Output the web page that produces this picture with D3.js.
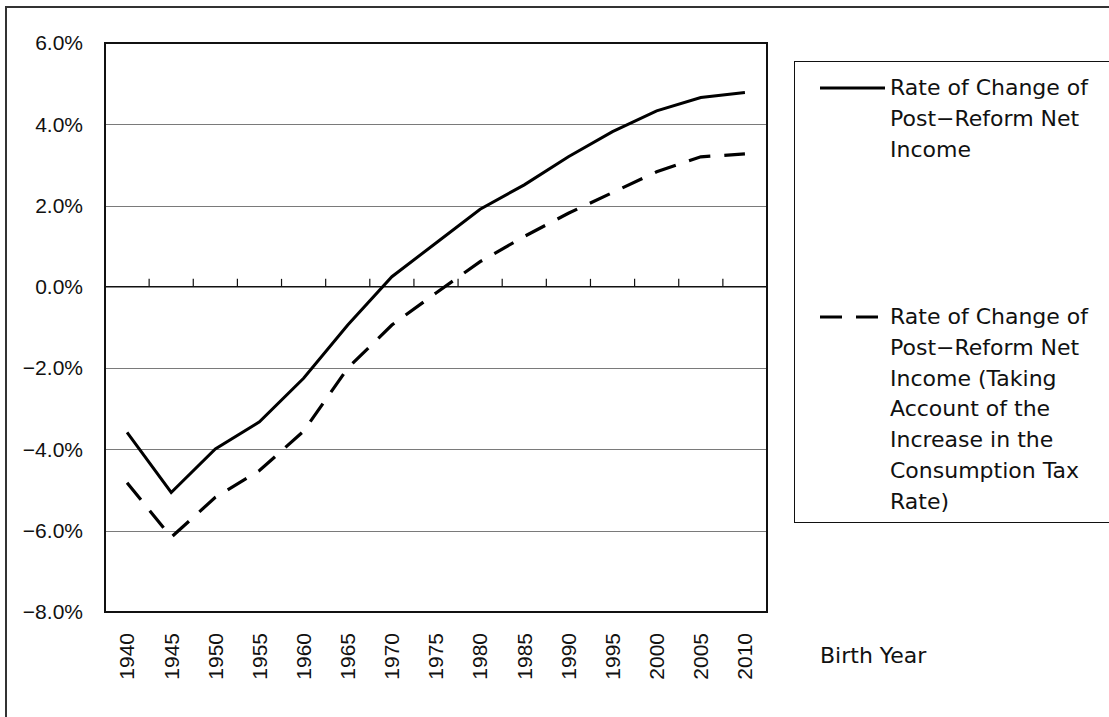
<!DOCTYPE html>
<html>
<head>
<meta charset="utf-8">
<script src="https://cdn.jsdelivr.net/npm/d3@7"></script>
<style>
  html, body { margin: 0; padding: 0; background: #fff; }
  svg { display: block; }
</style>
</head>
<body>
<svg id="chart" width="1109" height="717"></svg>
<script>
// Birth-year cohorts
const birthYears = ["1940","1945","1950","1955","1960","1965","1970","1975","1980","1985","1990","1995","2000","2005","2010"];

// Rate of change of post-reform net income (%)
const netIncomeChange = [-3.58, -5.06, -3.99, -3.32, -2.25, -0.94, 0.25, 1.08, 1.91, 2.51, 3.20, 3.82, 4.33, 4.66, 4.78];

// Same, taking account of the consumption tax increase (%)
const netIncomeChangeTax = [-4.82, -6.16, -5.18, -4.52, -3.55, -2.0, -0.94, -0.15, 0.62, 1.24, 1.81, 2.32, 2.83, 3.20, 3.27];

// Y-axis tick values (%)
const yTicks = [-8, -6, -4, -2, 0, 2, 4, 6];

const seriesLabels = [
  ["Rate of Change of", "Post\u2212Reform Net", "Income"],
  ["Rate of Change of", "Post\u2212Reform Net", "Income (Taking", "Account of the", "Increase in the", "Consumption Tax", "Rate)"]
];

const svg = d3.select("#chart");
const plot = { left: 105, right: 767, top: 43, bottom: 612 };

const x = d3.scaleBand().domain(birthYears).range([plot.left, plot.right]).padding(0);
const y = d3.scaleLinear().domain([-8, 6]).range([plot.bottom, plot.top]);

// outer frame
svg.append("rect")
  .attr("x", 6).attr("y", 7).attr("width", 1120).attr("height", 730)
  .attr("fill", "none").attr("stroke", "#333").attr("stroke-width", 2);

// gridlines
svg.append("g")
  .selectAll("line")
  .data(yTicks.filter(d => d !== 0 && d !== -8 && d !== 6))
  .join("line")
  .attr("x1", plot.left).attr("x2", plot.right)
  .attr("y1", d => Math.round(y(d)) + 0.5).attr("y2", d => Math.round(y(d)) + 0.5)
  .attr("stroke", "#7a7a7a").attr("stroke-width", 1);

// plot border
svg.append("rect")
  .attr("x", plot.left).attr("y", plot.top)
  .attr("width", plot.right - plot.left).attr("height", plot.bottom - plot.top)
  .attr("fill", "none").attr("stroke", "#111").attr("stroke-width", 2);

const axisFont = "'Liberation Sans', Arial, sans-serif";

// y axis labels
const yAxis = d3.axisLeft(y).tickValues(yTicks).tickSize(0).tickPadding(22)
  .tickFormat(d => (d < 0 ? "\u2212" : "") + Math.abs(d).toFixed(1) + "%");
const gy = svg.append("g").attr("transform", `translate(${plot.left},0)`).call(yAxis);
gy.select(".domain").remove();
gy.selectAll("text")
  .attr("font-family", axisFont)
  .attr("font-size", 21).attr("fill", "#111");

// zero line with category-boundary ticks
const zeroY = y(0);
svg.append("line")
  .attr("x1", plot.left).attr("x2", plot.right)
  .attr("y1", zeroY).attr("y2", zeroY)
  .attr("stroke", "#111").attr("stroke-width", 1.5);
svg.append("g")
  .selectAll("line")
  .data(birthYears.slice(1))
  .join("line")
  .attr("x1", d => x(d)).attr("x2", d => x(d))
  .attr("y1", zeroY).attr("y2", zeroY - 8)
  .attr("stroke", "#111").attr("stroke-width", 1.2);

// x axis labels (rotated)
const xAxis = d3.axisBottom(x).tickSize(0).tickPadding(0);
const gx = svg.append("g").attr("transform", `translate(0,${plot.bottom})`).call(xAxis);
gx.select(".domain").remove();
gx.selectAll("text")
  .attr("font-family", axisFont)
  .attr("font-size", 21).attr("fill", "#111")
  .attr("text-anchor", "end")
  .attr("dy", "0.35em")
  .attr("transform", "translate(0,21) rotate(-90)")
  .attr("y", 0).attr("x", 0);

// series lines
const line = d3.line().x((d, i) => x(birthYears[i]) + x.bandwidth() / 2).y(d => y(d));
svg.append("path").datum(netIncomeChange)
  .attr("d", line).attr("fill", "none")
  .attr("stroke", "#000").attr("stroke-width", 3).attr("stroke-linejoin", "miter");
svg.append("path").datum(netIncomeChangeTax)
  .attr("d", line).attr("fill", "none")
  .attr("stroke", "#000").attr("stroke-width", 3.2)
  .attr("stroke-dasharray", "22,14");

// legend
const legendFont = "'DejaVu Sans', sans-serif";
svg.append("rect")
  .attr("x", 794.5).attr("y", 61.5).attr("width", 340).attr("height", 461)
  .attr("fill", "#fff").attr("stroke", "#111").attr("stroke-width", 1);

const legendItems = [
  { y: 88, dash: null, lines: seriesLabels[0] },
  { y: 317, dash: "22,14", lines: seriesLabels[1] }
];
legendItems.forEach(item => {
  svg.append("line")
    .attr("x1", 820).attr("x2", 885).attr("y1", item.y).attr("y2", item.y)
    .attr("stroke", "#000").attr("stroke-width", 3)
    .attr("stroke-dasharray", item.dash);
  const t = svg.append("text")
    .attr("font-family", legendFont).attr("font-size", 22).attr("fill", "#111");
  item.lines.forEach((s, i) => {
    t.append("tspan").attr("x", 890).attr("y", item.y + 7 + i * 30.8).text(s);
  });
});

// x axis title
svg.append("text")
  .attr("x", 820).attr("y", 663)
  .attr("font-family", legendFont).attr("font-size", 22).attr("fill", "#111")
  .text("Birth Year");
</script>
</body>
</html>
